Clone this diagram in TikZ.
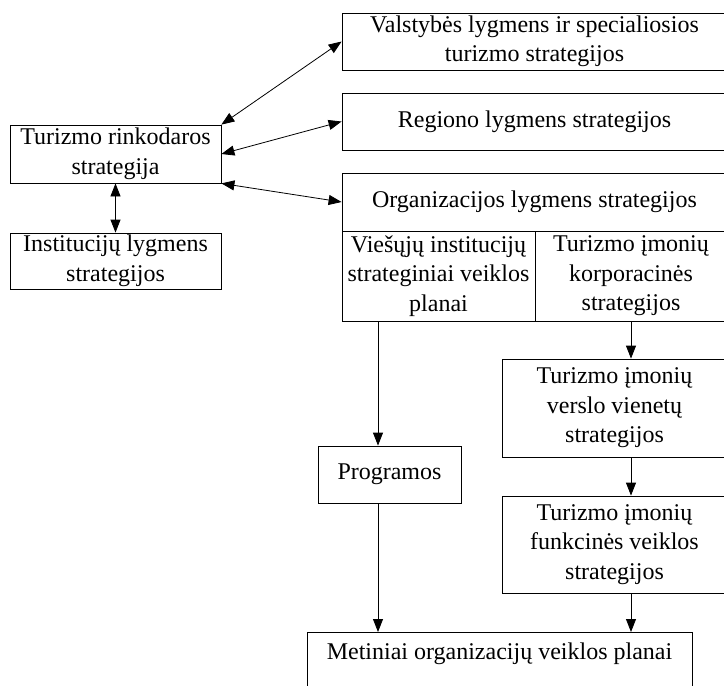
\documentclass[tikz,border=0pt]{standalone}
\usepackage{fontspec}
\setmainfont{Liberation Serif}
\usetikzlibrary{arrows.meta}
\begin{document}
\begin{tikzpicture}[x=1pt, y=-1pt,
  >={Triangle[length=13pt,width=10pt]}, line width=0.8pt,
  blk/.style={draw, align=center, inner sep=0pt, font=\fontsize{24}{29.5}\selectfont}]
\useasboundingbox (0,0) rectangle (724,686);
\node[blk, minimum width=211pt, minimum height=58pt] (rink)  at (115.5,154)   {Turizmo rinkodaros\\ strategija};
\node[blk, minimum width=211pt, minimum height=56pt] (inst)  at (115.5,261)   {Institucijų lygmens\\ strategijos};
\node[blk, minimum width=385pt, minimum height=57pt] (valst) at (534.5,41.5)  {Valstybės lygmens ir specialiosios\\ turizmo strategijos};
\node[blk, minimum width=385pt, minimum height=57pt] (reg)   at (534.5,121.5) {Regiono lygmens strategijos};
\node[blk, minimum width=385pt, minimum height=58pt] (org)   at (534.5,202)   {Organizacijos lygmens strategijos};
\node[blk, minimum width=193pt, minimum height=90pt] (vie)   at (438.5,276)   {Viešųjų institucijų\\ strateginiai veiklos\\ planai};
\node[blk, minimum width=192pt, minimum height=90pt] (korp)  at (631,276)     {Turizmo įmonių\\ korporacinės\\ strategijos};
\node[blk, minimum width=225pt, minimum height=98pt] (versl) at (614.5,408)   {Turizmo įmonių\\ verslo vienetų\\ strategijos};
\node[blk, minimum width=225pt, minimum height=97pt] (funk)  at (614.5,544.5) {Turizmo įmonių\\ funkcinės veiklos\\ strategijos};
\node[blk, minimum width=143pt, minimum height=57pt] (prog)  at (389.5,474.5) {Programos};
\node[blk, anchor=north, minimum width=385pt, inner ysep=8pt, text height=19pt, text depth=40pt] (met) at (499.5,632) {Metiniai organizacijų veiklos planai};
\coordinate (pcol) at (378,0);
\draw[<->] (rink.north east) -- (valst.west);
\draw[<->] (rink.east) -- (reg.west);
\draw[<->] (rink.south east) -- (org.west);
\draw[<->] (rink) -- (inst);
\draw[->] (vie.south -| pcol) -- (prog.north -| pcol);
\draw[->] (prog.south -| pcol) -- (met.north -| pcol);
\draw[->] (korp.south) -- (korp.south |- versl.north);
\draw[->] (versl.south -| korp.south) -- (funk.north -| korp.south);
\draw[->] (funk.south -| korp.south) -- (met.north -| korp.south);
\end{tikzpicture}
\end{document}
